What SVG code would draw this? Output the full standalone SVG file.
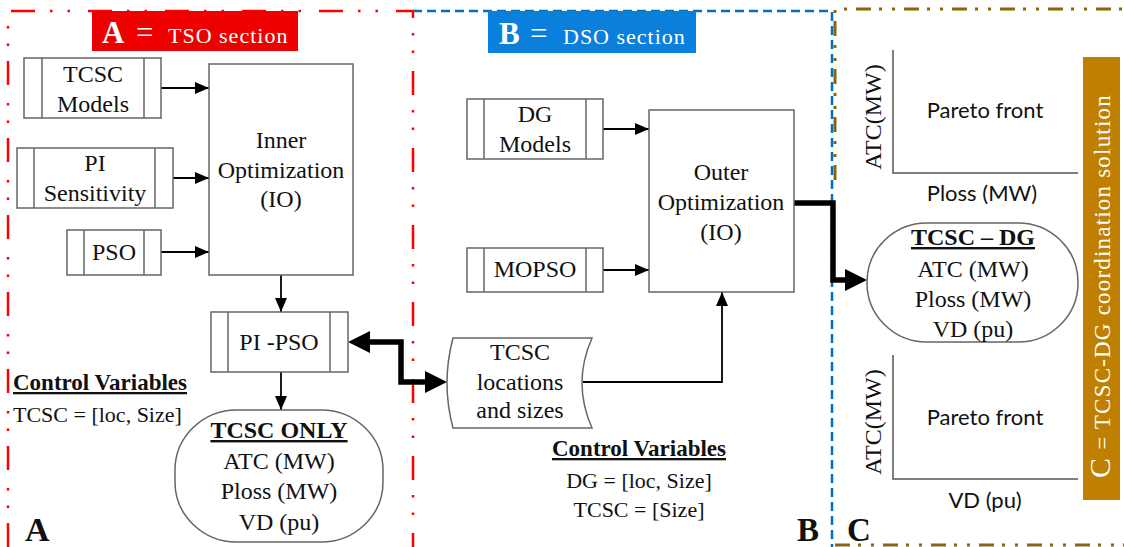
<svg xmlns="http://www.w3.org/2000/svg" width="1124" height="547" viewBox="0 0 1124 547">
<style>
.serif{font-family:"Liberation Serif","Times New Roman",serif;fill:#111}
.sans{font-family:Lato,"Liberation Sans",Arial,sans-serif;fill:#111}
.c{text-anchor:middle}
.box{fill:#fff;stroke:#666;stroke-width:1.5}
.ln{fill:none;stroke:#000;stroke-width:1.8}
.thick{fill:none;stroke:#000;stroke-width:5.5;stroke-linejoin:miter}
.axis{fill:none;stroke:#555;stroke-width:1.5}
.b{font-weight:bold}
.u{text-decoration:underline}
.hdr{font-family:"Liberation Serif","Times New Roman",serif;fill:#fff}
</style>
<defs>
<marker id="ah" markerUnits="userSpaceOnUse" markerWidth="14" markerHeight="12" refX="14" refY="6" orient="auto">
<path d="M0,0 L14,6 L0,12 z" fill="#000"/>
</marker>
<marker id="big" markerUnits="userSpaceOnUse" markerWidth="22" markerHeight="22" refX="0" refY="11" orient="auto-start-reverse">
<path d="M0,0 L22,11 L0,22 z" fill="#000"/>
</marker>
</defs>
<rect width="1124" height="547" fill="#fff"/>

<g id="borders">
<path d="M8,547 V11 H413 V547" fill="none" stroke="#ff0000" stroke-width="2.5" stroke-dasharray="24 15 2.5 15 2.5 18"/>
<path d="M835,180 V9 H1124" fill="none" stroke="#8b6508" stroke-width="3" stroke-dasharray="15 8 3 10 3 9"/>
<path d="M835,545 H1124" fill="none" stroke="#8b6508" stroke-width="3" stroke-dasharray="15 8 3 10 3 9"/>
<path d="M413,11 H832 V547" fill="none" stroke="#0070c0" stroke-width="2.5" stroke-dasharray="9 5"/>
</g>

<g id="header-A">
<rect x="92" y="11" width="206" height="40" fill="#ee0000"/>
<text class="hdr b" x="102" y="43" font-size="31">A</text>
<text class="hdr" x="136" y="43" font-size="31">=</text>
<text class="hdr" x="168" y="43" font-size="22" letter-spacing="1">TSO section</text>
</g>
<g id="header-B">
<rect x="488" y="11" width="208" height="42" fill="#0a80dc"/>
<text class="hdr b" x="499" y="44" font-size="31">B</text>
<text class="hdr" x="530" y="44" font-size="31">=</text>
<text class="hdr" x="563" y="44" font-size="22" letter-spacing="1">DSO section</text>
</g>
<g id="header-C">
<rect x="1083" y="57" width="37" height="443" fill="#bf7f00"/>
<text class="hdr" transform="translate(1110,478) rotate(-90)" font-size="23" letter-spacing="1.2"><tspan font-size="30">C</tspan> = TCSC-DG coordination solution</text>
</g>

<g id="connectors">
<path class="ln" d="M161,88 H209" marker-end="url(#ah)"/>
<path class="ln" d="M173,178 H209" marker-end="url(#ah)"/>
<path class="ln" d="M161,252 H209" marker-end="url(#ah)"/>
<path class="ln" d="M281,275 V312" marker-end="url(#ah)"/>
<path class="ln" d="M281,372 V410" marker-end="url(#ah)"/>
<path class="ln" d="M603,129 H649" marker-end="url(#ah)"/>
<path class="ln" d="M603,270 H649" marker-end="url(#ah)"/>
<path class="ln" d="M583,382 H722 V292" marker-end="url(#ah)"/>
<path class="thick" d="M370,342 H401 V382 H425" marker-start="url(#big)" marker-end="url(#big)"/>
<path class="thick" d="M794,203 H833 V280 H845" marker-end="url(#big)"/>
</g>

<g id="tcsc-models">
<rect class="box" x="24" y="58" width="137" height="60"/>
<path class="box" d="M42,58 V118 M144,58 V118"/>
<text class="serif c" x="93" y="82" font-size="24">TCSC</text>
<text class="serif c" x="93" y="112" font-size="24">Models</text>
</g>
<g id="pi-sensitivity">
<rect class="box" x="17" y="148" width="156" height="60"/>
<path class="box" d="M34,148 V208 M155,148 V208"/>
<text class="serif c" x="95" y="171" font-size="24">PI</text>
<text class="serif c" x="95" y="201" font-size="24">Sensitivity</text>
</g>
<g id="pso">
<rect class="box" x="67" y="230" width="94" height="45"/>
<path class="box" d="M84,230 V275 M144,230 V275"/>
<text class="serif c" x="114" y="260" font-size="24">PSO</text>
</g>
<g id="inner-optimization">
<rect class="box" x="209" y="64" width="144" height="211"/>
<text class="serif c" x="281" y="148" font-size="24">Inner</text>
<text class="serif c" x="281" y="178" font-size="24">Optimization</text>
<text class="serif c" x="281" y="207" font-size="24">(IO)</text>
</g>
<g id="pi-pso">
<rect class="box" x="211" y="312" width="137" height="60"/>
<path class="box" d="M228,312 V372 M330,312 V372"/>
<text class="serif c" x="279" y="350" font-size="24">PI -PSO</text>
</g>
<g id="tcsc-only">
<rect class="box" x="175" y="410" width="208" height="132" rx="62" ry="60"/>
<text class="serif c b u" x="279" y="438" font-size="24">TCSC ONLY</text>
<text class="serif c" x="279" y="469" font-size="24">ATC (MW)</text>
<text class="serif c" x="279" y="499" font-size="24">Ploss (MW)</text>
<text class="serif c" x="279" y="530" font-size="24">VD (pu)</text>
</g>
<g id="control-A">
<text class="serif b u" x="13" y="390" font-size="23">Control Variables</text>
<text class="serif" x="13" y="422" font-size="22">TCSC = [loc, Size]</text>
<text class="serif b" x="25" y="541" font-size="34">A</text>
</g>

<g id="dg-models">
<rect class="box" x="467" y="99" width="136" height="60"/>
<path class="box" d="M484,99 V159 M586,99 V159"/>
<text class="serif c" x="535" y="122" font-size="24">DG</text>
<text class="serif c" x="535" y="152" font-size="24">Models</text>
</g>
<g id="mopso">
<rect class="box" x="467" y="248" width="136" height="44"/>
<path class="box" d="M484,248 V292 M586,248 V292"/>
<text class="serif c" x="535" y="277" font-size="24">MOPSO</text>
</g>
<g id="outer-optimization">
<rect class="box" x="649" y="110" width="145" height="182"/>
<text class="serif c" x="721" y="180" font-size="24">Outer</text>
<text class="serif c" x="721" y="210" font-size="24">Optimization</text>
<text class="serif c" x="721" y="240" font-size="24">(IO)</text>
</g>
<g id="tcsc-locations">
<path class="box" d="M453,338 L592,338 Q572,383 592,428 L453,428 Q441,383 453,338 Z"/>
<text class="serif c" x="520" y="360" font-size="24">TCSC</text>
<text class="serif c" x="520" y="390" font-size="24">locations</text>
<text class="serif c" x="520" y="418" font-size="24">and sizes</text>
</g>
<g id="control-B">
<text class="serif c b u" x="639" y="456" font-size="23">Control Variables</text>
<text class="serif c" x="639" y="488" font-size="22">DG = [loc, Size]</text>
<text class="serif c" x="639" y="517" font-size="22">TCSC = [Size]</text>
<text class="serif b" x="797" y="541" font-size="33">B</text>
</g>

<g id="pareto-1">
<path class="axis" d="M893,50 V173 H1078"/>
<text class="serif c" transform="translate(881,117) rotate(-90)" font-size="24">ATC(MW)</text>
<text class="sans c" x="985" y="118" font-size="22">Pareto front</text>
<text class="sans c" x="982" y="201" font-size="22">Ploss (MW)</text>
</g>
<g id="tcsc-dg">
<rect class="box" x="867" y="223" width="211" height="119" rx="60" ry="59"/>
<text class="serif c b u" x="973" y="245" font-size="24">TCSC – DG</text>
<text class="serif c" x="973" y="277" font-size="24">ATC (MW)</text>
<text class="serif c" x="973" y="307" font-size="24">Ploss (MW)</text>
<text class="serif c" x="973" y="337" font-size="24">VD (pu)</text>
</g>
<g id="pareto-2">
<path class="axis" d="M893,355 V479 H1078"/>
<text class="serif c" transform="translate(881,422) rotate(-90)" font-size="24">ATC(MW)</text>
<text class="sans c" x="985" y="425" font-size="22">Pareto front</text>
<text class="sans c" x="985" y="508" font-size="22">VD (pu)</text>
<text class="serif b" x="847" y="541" font-size="33">C</text>
</g>
</svg>
